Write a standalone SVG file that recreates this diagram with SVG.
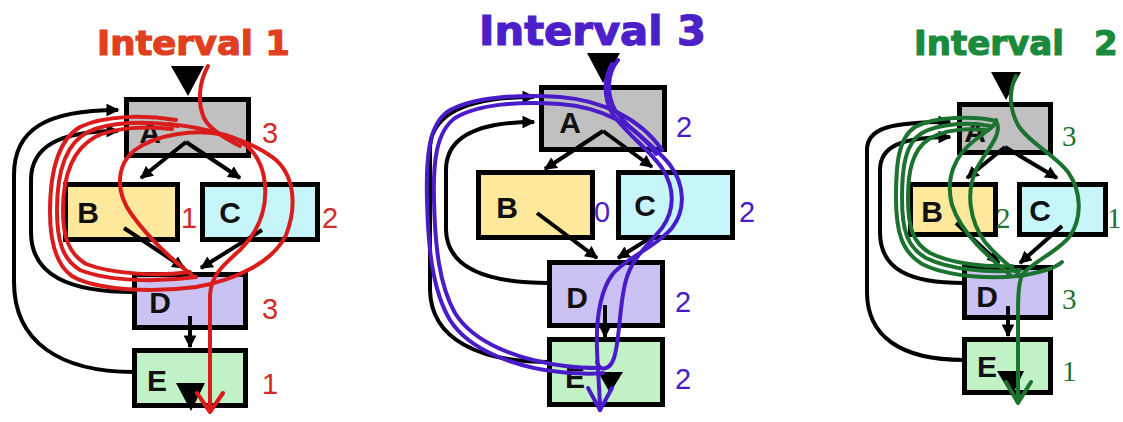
<svg xmlns="http://www.w3.org/2000/svg" width="1123" height="422" viewBox="0 0 1123 422">
<defs>
<marker id="ah" viewBox="0 0 10 10" refX="9" refY="5" markerWidth="3.2" markerHeight="3.2" orient="auto" markerUnits="strokeWidth"><path d="M0,0 L10,5 L0,10 z" fill="#000"/></marker>
<style>
.box{stroke:#000;stroke-width:5}
.a{fill:#c0c0c0}.b{fill:#fde89c}.c{fill:#c6f5fa}.d{fill:#cac2f2}.e{fill:#c0f2c6}
.lt{font-family:"Liberation Sans",Arial,sans-serif;font-weight:bold;font-size:30px;fill:#111;text-anchor:middle}
.title{font-family:"DejaVu Sans",Verdana,sans-serif;font-weight:bold;stroke-width:1.2}
.num{font-family:"Liberation Sans",Arial,sans-serif;font-size:29px}
.numS{font-family:"Liberation Serif","Times New Roman",serif;font-size:29px}
.edge{fill:none;stroke:#000;stroke-width:4;marker-end:url(#ah)}
.tri{fill:#000}
.red{fill:none;stroke:#d91c1c;stroke-width:4;stroke-linecap:round;stroke-linejoin:round}
.pur{fill:none;stroke:#4a1bc9;stroke-width:4;stroke-linecap:round;stroke-linejoin:round}
.grn{fill:none;stroke:#1c7330;stroke-width:4;stroke-linecap:round;stroke-linejoin:round}
</style>
</defs>
<rect width="1123" height="422" fill="#fff"/>

<!-- Panel 1 : Interval 1 -->
<g id="p1-title"><text class="title" x="97" y="55" font-size="34" fill="#e0401f" stroke="#e0401f" textLength="193" lengthAdjust="spacingAndGlyphs">Interval 1</text></g>
<g id="p1-A"><rect class="box a" x="126.5" y="99.5" width="122" height="56"/><text class="lt" x="150" y="143">A</text><text class="num" x="262" y="143" fill="#d22a2a">3</text></g>
<g id="p1-B"><rect class="box b" x="65.5" y="184.5" width="112" height="55"/><text class="lt" x="88" y="223">B</text><text class="num" x="181" y="228" fill="#d22a2a">1</text></g>
<g id="p1-C"><rect class="box c" x="202.5" y="184.5" width="115" height="55"/><text class="lt" x="230" y="223">C</text><text class="num" x="322" y="228" fill="#d22a2a">2</text></g>
<g id="p1-D"><rect class="box d" x="134.5" y="274.5" width="111" height="53"/><text class="lt" x="160" y="313">D</text><text class="num" x="262" y="319" fill="#d22a2a">3</text></g>
<g id="p1-E"><rect class="box e" x="134.5" y="350.5" width="111" height="55"/><text class="lt" x="157" y="391">E</text><text class="num" x="262" y="394" fill="#d22a2a">1</text></g>

<!-- Panel 2 : Interval 3 -->
<g id="p2-title"><text class="title" x="479" y="45" font-size="41" fill="#4d1fc8" stroke="#4d1fc8" textLength="227" lengthAdjust="spacingAndGlyphs">Interval 3</text></g>
<g id="p2-A"><rect class="box a" x="541.5" y="87.5" width="123" height="62"/><text class="lt" x="570" y="133">A</text><text class="num" x="676" y="137" fill="#4a1bc9">2</text></g>
<g id="p2-B"><rect class="box b" x="478.5" y="172.5" width="114" height="65"/><text class="lt" x="507" y="218">B</text><text class="num" x="594" y="222" fill="#4a1bc9">0</text></g>
<g id="p2-C"><rect class="box c" x="618.5" y="172.5" width="114" height="65"/><text class="lt" x="645" y="216">C</text><text class="num" x="739" y="222" fill="#4a1bc9">2</text></g>
<g id="p2-D"><rect class="box d" x="549.5" y="262.5" width="113" height="63"/><text class="lt" x="577" y="308">D</text><text class="num" x="675" y="312" fill="#4a1bc9">2</text></g>
<g id="p2-E"><rect class="box e" x="549.5" y="339.5" width="113" height="65"/><text class="lt" x="575" y="388">E</text><text class="num" x="675" y="389" fill="#4a1bc9">2</text></g>

<!-- Panel 3 : Interval 2 -->
<g id="p3-title"><text class="title" x="914" y="55" font-size="34" fill="#1a8a3c" stroke="#1a8a3c" textLength="150" lengthAdjust="spacingAndGlyphs">Interval</text><text class="title" x="1094" y="55" font-size="34" fill="#1a8a3c" stroke="#1a8a3c">2</text></g>
<g id="p3-A"><rect class="box a" x="959.5" y="104.5" width="91" height="48"/><text class="lt" x="975" y="142" font-size="27">A</text><text class="numS" x="1062" y="146" fill="#1c7330">3</text></g>
<g id="p3-B"><rect class="box b" x="910.5" y="184.5" width="85" height="50"/><text class="lt" x="932" y="222" font-size="27">B</text><text class="numS" x="996" y="228" fill="#1c7330">2</text></g>
<g id="p3-C"><rect class="box c" x="1019.5" y="184.5" width="86" height="50"/><text class="lt" x="1040" y="221" font-size="27">C</text><text class="numS" x="1107" y="228" fill="#1c7330">1</text></g>
<g id="p3-D"><rect class="box d" x="964.5" y="267.5" width="86" height="50"/><text class="lt" x="987" y="307" font-size="27">D</text><text class="numS" x="1062" y="309" fill="#1c7330">3</text></g>
<g id="p3-E"><rect class="box e" x="964.5" y="339.5" width="86" height="53"/><text class="lt" x="987" y="377" font-size="27">E</text><text class="numS" x="1062" y="381" fill="#1c7330">1</text></g>

<!-- Connectors -->
<g id="connectors">
  <!-- panel 1 -->
  <polygon class="tri" points="171,66 204,66 188,96"/>
  <path class="edge" d="M186,142 L141,178"/>
  <path class="edge" d="M186,142 L240,178"/>
  <path class="edge" d="M124,228 L184,268"/>
  <path class="edge" d="M262,230 L201,268"/>
  <path class="edge" d="M190,316 L190,347"/>
  <polygon class="tri" points="176,383 205,383 191,411"/>
  <path class="edge" d="M134,292 C70,292 31,276 31,232 L31,180 C31,146 60,131 118,131"/>
  <path class="edge" d="M134,372 C60,372 14,342 14,282 L14,175 C14,130 45,110 118,110"/>
  <!-- panel 2 -->
  <polygon class="tri" points="587,53 620,53 603,83"/>
  <path class="edge" d="M603,131 L545,169"/>
  <path class="edge" d="M603,131 L652,167"/>
  <path class="edge" d="M537,213 L597,258"/>
  <path class="edge" d="M650,238 L618,258"/>
  <path class="edge" d="M605,305 L605,337"/>
  <polygon class="tri" points="598,372 623,372 610,393"/>
  <path class="edge" d="M549,283 C490,283 447,270 446,230 L446,170 C446,136 480,122 534,122"/>
  <path class="edge" d="M549,362 C480,362 431,340 430,290 L430,150 C430,112 470,97 534,97"/>
  <!-- panel 3 -->
  <polygon class="tri" points="991,72 1021,72 1006,100"/>
  <path class="edge" d="M1005,147 L967,178"/>
  <path class="edge" d="M1005,147 L1057,178"/>
  <path class="edge" d="M956,223 L999,263"/>
  <path class="edge" d="M1062,226 L1020,263"/>
  <path class="edge" d="M1008,306 L1008,336"/>
  <polygon class="tri" points="997,371 1024,371 1012,396"/>
  <path class="edge" d="M964,283 C910,283 880,270 880,232 L880,170 C880,147 900,137 950,137"/>
  <path class="edge" d="M964,360 C900,360 867,336 867,292 L867,150 C867,128 890,122 950,122"/>
</g>

<!-- Hand-drawn interval overlays -->
<g id="overlay-interval1">
  <path class="red" d="M208,66 C198,84 198,104 204,118 C210,130 225,138 240,146"/>
  <path class="red" d="M193,276 C175,262 150,240 132,215 C115,192 116,165 135,150 C155,135 195,128 225,135 C250,142 263,160 265,185 C267,210 258,232 240,250 C222,266 211,276 210,295 L210,410"/>
  <path class="red" d="M197,393 L210,412 L223,393"/>
  <path class="red" d="M168,124 C205,127 252,140 276,160 C296,178 296,210 286,235 C273,262 236,280 196,287 C150,293 95,290 72,276 C55,264 50,240 50,212 C50,170 58,140 80,127 C105,115 145,115 176,120"/>
  <path class="red" d="M178,126 C150,121 110,121 88,132 C66,143 57,170 57,210 C57,240 62,259 80,270 C110,282 160,282 196,277"/>
  <path class="red" d="M172,129 C148,126 115,127 95,137 C72,150 63,175 63,210 C63,236 68,253 86,264 C115,275 160,276 190,272"/>
</g>
<g id="overlay-interval3">
  <path class="pur" d="M618,60 C606,75 607,95 615,110 C628,130 655,145 670,165 C685,185 686,210 672,228 C655,248 625,258 612,275 C600,292 596,320 597,350 C598,375 600,395 600,410"/>
  <path class="pur" d="M588,388 L600,410 L612,388"/>
  <path class="pur" d="M612,64 C603,80 604,98 612,113 C624,132 648,148 662,168 C675,188 675,210 662,228 C648,245 632,258 626,280 C619,305 620,340 614,358 C610,370 600,372 597,362"/>
  <path class="pur" d="M662,150 C640,118 600,100 560,97 C520,94 470,97 447,112 C428,126 426,160 427,200 C428,245 432,290 450,320 C470,352 520,368 560,372 C580,374 595,374 603,373"/>
  <path class="pur" d="M656,154 C636,124 600,107 560,104 C520,101 478,104 455,118 C436,132 433,162 434,200 C435,245 439,285 455,313 C474,344 520,360 565,366 C580,368 592,368 600,368"/>
</g>
<g id="overlay-interval2">
  <path class="grn" d="M1016,76 C1008,92 1010,110 1018,125 C1028,142 1055,155 1068,172 C1082,192 1082,218 1070,236 C1058,252 1032,262 1022,275 C1018,285 1018,300 1018,320 L1018,400"/>
  <path class="grn" d="M1006,382 L1018,403 L1031,382"/>
  <path class="grn" d="M1010,275 C990,258 962,235 952,205 C945,178 955,155 975,140 C988,130 998,124 996,120"/>
  <path class="grn" d="M997,123 C1002,136 986,150 976,170 C966,192 969,220 985,242 C998,258 1012,268 1020,275"/>
  <path class="grn" d="M996,121 C975,116 935,116 915,127 C898,138 896,165 896,198 C896,232 902,252 922,264 C948,277 995,280 1025,275 C1045,271 1055,268 1062,262"/>
  <path class="grn" d="M990,126 C970,122 940,123 922,133 C905,143 902,168 902,198 C902,230 907,247 926,258 C950,270 990,273 1020,270"/>
  <path class="grn" d="M985,130 C965,128 944,130 929,139 C912,150 908,172 908,198 C908,228 913,243 930,253 C952,264 985,267 1012,266"/>
</g>
</svg>
